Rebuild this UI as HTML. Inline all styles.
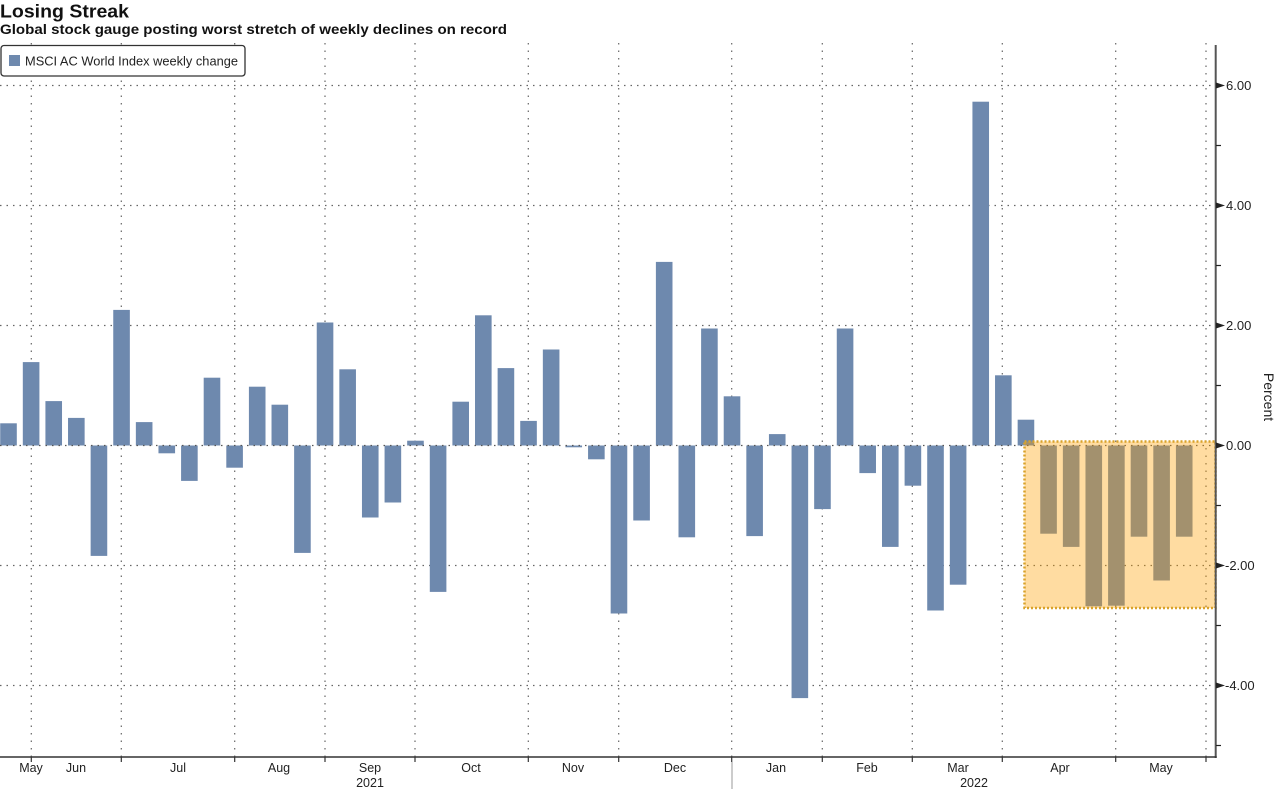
<!DOCTYPE html>
<html><head><meta charset="utf-8"><style>
html,body{margin:0;padding:0;background:#fff;}
svg{display:block;}
</style></head><body>
<svg width="1280" height="789" viewBox="0 0 1280 789" xmlns="http://www.w3.org/2000/svg" font-family="'Liberation Sans', sans-serif">
<rect width="1280" height="789" fill="#fff"/>
<g stroke="#666" stroke-width="1.2" stroke-dasharray="1.5 5">
<line x1="0" y1="85.5" x2="1215" y2="85.5"/>
<line x1="0" y1="205.5" x2="1215" y2="205.5"/>
<line x1="0" y1="325.5" x2="1215" y2="325.5"/>
<line x1="0" y1="565.5" x2="1215" y2="565.5"/>
<line x1="0" y1="685.5" x2="1215" y2="685.5"/>
</g>
<g stroke="#666" stroke-width="1.2" stroke-dasharray="1.5 6">
<line x1="31.3" y1="43" x2="31.3" y2="757"/>
<line x1="121.3" y1="43" x2="121.3" y2="757"/>
<line x1="234.7" y1="43" x2="234.7" y2="757"/>
<line x1="325" y1="43" x2="325" y2="757"/>
<line x1="415" y1="43" x2="415" y2="757"/>
<line x1="528.3" y1="43" x2="528.3" y2="757"/>
<line x1="618.7" y1="43" x2="618.7" y2="757"/>
<line x1="731.7" y1="43" x2="731.7" y2="757"/>
<line x1="822.3" y1="43" x2="822.3" y2="757"/>
<line x1="912.3" y1="43" x2="912.3" y2="757"/>
<line x1="1002.3" y1="43" x2="1002.3" y2="757"/>
<line x1="1115.7" y1="43" x2="1115.7" y2="757"/>
<line x1="1206" y1="43" x2="1206" y2="757"/>
</g>
<g fill="#6E89AE">
<rect x="0.2" y="423.3" width="16.6" height="22.2"/>
<rect x="22.81" y="362.1" width="16.6" height="83.4"/>
<rect x="45.42" y="401.1" width="16.6" height="44.4"/>
<rect x="68.03" y="417.9" width="16.6" height="27.6"/>
<rect x="90.64" y="445.5" width="16.6" height="110.4"/>
<rect x="113.25" y="309.9" width="16.6" height="135.6"/>
<rect x="135.86" y="422.1" width="16.6" height="23.4"/>
<rect x="158.47" y="445.5" width="16.6" height="7.8"/>
<rect x="181.08" y="445.5" width="16.6" height="35.4"/>
<rect x="203.69" y="377.7" width="16.6" height="67.8"/>
<rect x="226.3" y="445.5" width="16.6" height="22.2"/>
<rect x="248.91" y="386.7" width="16.6" height="58.8"/>
<rect x="271.52" y="404.7" width="16.6" height="40.8"/>
<rect x="294.13" y="445.5" width="16.6" height="107.4"/>
<rect x="316.74" y="322.5" width="16.6" height="123"/>
<rect x="339.35" y="369.3" width="16.6" height="76.2"/>
<rect x="361.96" y="445.5" width="16.6" height="72"/>
<rect x="384.57" y="445.5" width="16.6" height="57"/>
<rect x="407.18" y="440.7" width="16.6" height="4.8"/>
<rect x="429.79" y="445.5" width="16.6" height="146.4"/>
<rect x="452.4" y="401.7" width="16.6" height="43.8"/>
<rect x="475.01" y="315.3" width="16.6" height="130.2"/>
<rect x="497.62" y="368.1" width="16.6" height="77.4"/>
<rect x="520.23" y="420.9" width="16.6" height="24.6"/>
<rect x="542.84" y="349.5" width="16.6" height="96"/>
<rect x="565.45" y="445.5" width="16.6" height="1.8"/>
<rect x="588.06" y="445.5" width="16.6" height="13.8"/>
<rect x="610.67" y="445.5" width="16.6" height="168"/>
<rect x="633.28" y="445.5" width="16.6" height="75"/>
<rect x="655.89" y="261.9" width="16.6" height="183.6"/>
<rect x="678.5" y="445.5" width="16.6" height="91.8"/>
<rect x="701.11" y="328.5" width="16.6" height="117"/>
<rect x="723.72" y="396.3" width="16.6" height="49.2"/>
<rect x="746.33" y="445.5" width="16.6" height="90.6"/>
<rect x="768.94" y="434.1" width="16.6" height="11.4"/>
<rect x="791.55" y="445.5" width="16.6" height="252.6"/>
<rect x="814.16" y="445.5" width="16.6" height="63.6"/>
<rect x="836.77" y="328.5" width="16.6" height="117"/>
<rect x="859.38" y="445.5" width="16.6" height="27.6"/>
<rect x="881.99" y="445.5" width="16.6" height="101.4"/>
<rect x="904.6" y="445.5" width="16.6" height="40.2"/>
<rect x="927.21" y="445.5" width="16.6" height="165"/>
<rect x="949.82" y="445.5" width="16.6" height="139.2"/>
<rect x="972.43" y="101.7" width="16.6" height="343.8"/>
<rect x="995.04" y="375.3" width="16.6" height="70.2"/>
<rect x="1017.65" y="419.7" width="16.6" height="25.8"/>
<rect x="1040.26" y="445.5" width="16.6" height="88.2"/>
<rect x="1062.87" y="445.5" width="16.6" height="101.4"/>
<rect x="1085.48" y="445.5" width="16.6" height="160.8"/>
<rect x="1108.09" y="445.5" width="16.6" height="160.2"/>
<rect x="1130.7" y="445.5" width="16.6" height="91.2"/>
<rect x="1153.31" y="445.5" width="16.6" height="135"/>
<rect x="1175.92" y="445.5" width="16.6" height="91.2"/>
</g>
<line x1="0" y1="445.5" x2="1215" y2="445.5" stroke="#555" stroke-width="1.2" stroke-dasharray="1.5 5"/>
<rect x="1024.5" y="441.5" width="191" height="166.5" fill="rgb(255,159,0)" fill-opacity="0.37" stroke="#D9A22A" stroke-width="2.5" stroke-dasharray="2 2"/>
<line x1="1215.7" y1="45" x2="1215.7" y2="758" stroke="#555" stroke-width="2"/>
<line x1="0" y1="757" x2="1216.7" y2="757" stroke="#333" stroke-width="1.5"/>
<g stroke="#333" stroke-width="1.2">
<line x1="31.3" y1="757" x2="31.3" y2="762"/>
<line x1="121.3" y1="757" x2="121.3" y2="762"/>
<line x1="234.7" y1="757" x2="234.7" y2="762"/>
<line x1="325" y1="757" x2="325" y2="762"/>
<line x1="415" y1="757" x2="415" y2="762"/>
<line x1="528.3" y1="757" x2="528.3" y2="762"/>
<line x1="618.7" y1="757" x2="618.7" y2="762"/>
<line x1="731.7" y1="757" x2="731.7" y2="762"/>
<line x1="822.3" y1="757" x2="822.3" y2="762"/>
<line x1="912.3" y1="757" x2="912.3" y2="762"/>
<line x1="1002.3" y1="757" x2="1002.3" y2="762"/>
<line x1="1115.7" y1="757" x2="1115.7" y2="762"/>
<line x1="1206" y1="757" x2="1206" y2="762"/>
</g>
<line x1="732" y1="762" x2="732" y2="789" stroke="#999" stroke-width="1"/>
<g fill="#222">
<polygon points="1216,82.5 1225,85.5 1216,88.5"/>
<polygon points="1216,202.5 1225,205.5 1216,208.5"/>
<polygon points="1216,322.5 1225,325.5 1216,328.5"/>
<polygon points="1216,442.5 1225,445.5 1216,448.5"/>
<polygon points="1216,562.5 1225,565.5 1216,568.5"/>
<polygon points="1216,682.5 1225,685.5 1216,688.5"/>
</g>
<g stroke="#222" stroke-width="1.2">
<line x1="1216" y1="145.5" x2="1221" y2="145.5"/>
<line x1="1216" y1="265.5" x2="1221" y2="265.5"/>
<line x1="1216" y1="385.5" x2="1221" y2="385.5"/>
<line x1="1216" y1="505.5" x2="1221" y2="505.5"/>
<line x1="1216" y1="625.5" x2="1221" y2="625.5"/>
<line x1="1216" y1="745.5" x2="1221" y2="745.5"/>
</g>
<g font-size="13" fill="#222">
<text x="1226" y="90">6.00</text>
<text x="1226" y="210">4.00</text>
<text x="1226" y="330">2.00</text>
<text x="1226" y="450">0.00</text>
<text x="1225" y="570">-2.00</text>
<text x="1225" y="690">-4.00</text>
</g>
<text x="0" y="0" font-size="14" fill="#222" transform="translate(1264,397) rotate(90)" text-anchor="middle">Percent</text>
<g font-size="12.5" fill="#222" text-anchor="middle">
<text x="31" y="772">May</text>
<text x="76" y="772">Jun</text>
<text x="178" y="772">Jul</text>
<text x="279" y="772">Aug</text>
<text x="370" y="772">Sep</text>
<text x="471" y="772">Oct</text>
<text x="573" y="772">Nov</text>
<text x="675" y="772">Dec</text>
<text x="776" y="772">Jan</text>
<text x="867" y="772">Feb</text>
<text x="958" y="772">Mar</text>
<text x="1060" y="772">Apr</text>
<text x="1161" y="772">May</text>
<text x="370" y="787">2021</text>
<text x="974" y="787">2022</text>
</g>
<rect x="1" y="45.5" width="244" height="30.5" rx="3" fill="#fff" stroke="#333" stroke-width="1.3"/>
<rect x="9" y="55" width="11" height="11" fill="#6E89AE"/>
<text x="25" y="65.5" font-size="12.5" fill="#222" textLength="213" lengthAdjust="spacingAndGlyphs">MSCI AC World Index weekly change</text>
<text x="0" y="17.5" font-size="18.5" font-weight="bold" fill="#111" textLength="129" lengthAdjust="spacingAndGlyphs">Losing Streak</text>
<text x="0" y="34" font-size="13.5" font-weight="bold" fill="#111" textLength="507" lengthAdjust="spacingAndGlyphs">Global stock gauge posting worst stretch of weekly declines on record</text>
</svg>
</body></html>
